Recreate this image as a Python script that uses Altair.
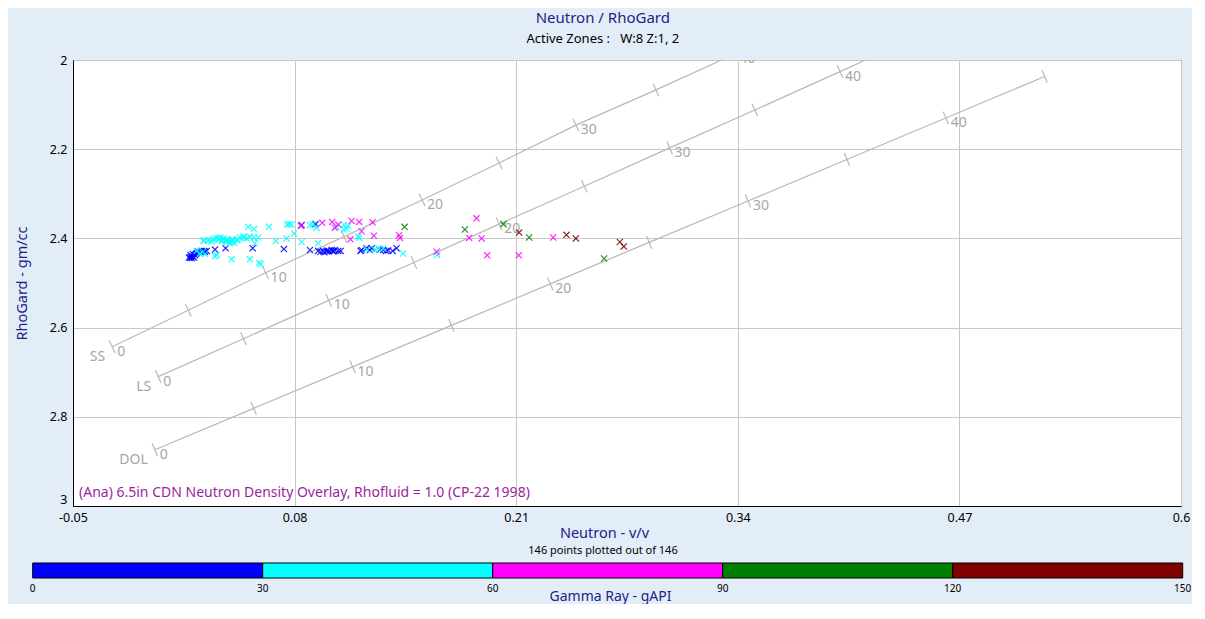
import altair as alt
import numpy as np
import pandas as pd

# ---------------- chart geometry ----------------
W, H = 1108, 446
X_DOMAIN = [-0.05, 0.6]
Y_DOMAIN = [2.0, 3.0]
FONT = "Noto Sans"
NAVY = "#22228a"
GRAY_LINE = "#b8b8b8"
GRAY_TEXT = "#a6a6a6"
BAR_LEFT = -40.3     # colour bar starts this many px left of the plot's left edge
BAR_LEN = 1150.0     # colour bar length in px

# ---------------- cross-plot points (neutron v/v, RhoGard gm/cc, GR gAPI) ----------------
blue_nphi = [0.018, 0.019, 0.020, 0.021, 0.019, 0.022, 0.0235, 0.025, 0.0255, 0.027, 0.0274, 0.0284,
             0.0333, 0.0395, 0.0554, 0.0737, 0.0841, 0.0923, 0.089, 0.0938, 0.0952, 0.0968, 0.0988,
             0.1003, 0.1023, 0.1036, 0.1056, 0.107, 0.1193, 0.1222, 0.1252, 0.130, 0.132, 0.1349,
             0.1375, 0.1398, 0.1187, 0.1242, 0.1017, 0.0198, 0.0227, 0.0189, 0.0215, 0.0203, 0.0975,
             0.0992, 0.103, 0.1336]
blue_rhob = [2.443, 2.441, 2.440, 2.443, 2.437, 2.435, 2.430, 2.430, 2.428, 2.428, 2.430, 2.428,
             2.425, 2.422, 2.422, 2.424, 2.370, 2.368, 2.426, 2.428, 2.430, 2.429, 2.429,
             2.429, 2.428, 2.426, 2.428, 2.428, 2.426, 2.422, 2.422, 2.4255, 2.426, 2.427,
             2.428, 2.422, 2.428, 2.426, 2.426, 2.444, 2.433, 2.444, 2.438, 2.435, 2.431,
             2.427, 2.429, 2.428]
blue_gr = [14, 16, 12, 18, 15, 20, 22, 19, 21, 24, 17, 23, 25, 26, 27, 28, 29, 28, 24, 22, 21, 23, 25, 26,
           27, 24, 22, 25, 26, 28, 27, 24, 23, 25, 26, 29, 24, 27, 26, 13, 19, 11, 17, 15, 22, 23, 21, 27]

cyan_nphi = [0.0528, 0.0561, 0.0649, 0.0757, 0.0782, 0.089, 0.0906, 0.0929, 0.1046, 0.1089, 0.1114, 0.1089, 0.1105,
             0.0264, 0.0293, 0.0319, 0.0358, 0.0372, 0.0385, 0.0401, 0.0416, 0.043, 0.0444, 0.0460, 0.0479,
             0.0499, 0.0518, 0.0538, 0.0561, 0.0587, 0.0567, 0.069, 0.0753, 0.0798, 0.0841, 0.0938, 0.1173, 0.1179,
             0.0345, 0.0374, 0.0403, 0.042, 0.0439, 0.031, 0.027,
             0.0225, 0.0245, 0.0274, 0.0343, 0.0333, 0.043, 0.0538, 0.0592, 0.0601, 0.1226, 0.1271, 0.129,
             0.132, 0.1437, 0.1636, 0.026,
             0.0768,
             0.0327, 0.0394, 0.0435, 0.0468, 0.0503, 0.0363]
cyan_rhob = [2.374, 2.379, 2.374, 2.369, 2.369, 2.370, 2.369, 2.376, 2.374, 2.380, 2.372, 2.370, 2.378,
             2.406, 2.405, 2.404, 2.402, 2.406, 2.400, 2.402, 2.406, 2.408, 2.410, 2.404, 2.398,
             2.396, 2.400, 2.396, 2.398, 2.398, 2.411, 2.406, 2.400, 2.389, 2.408, 2.411, 2.396, 2.399,
             2.399, 2.404, 2.407, 2.411, 2.404, 2.407, 2.404,
             2.428, 2.434, 2.435, 2.437, 2.440, 2.447, 2.447, 2.455, 2.458, 2.425, 2.425, 2.422,
             2.423, 2.434, 2.437, 2.431,
             2.368,
             2.400, 2.405, 2.402, 2.403, 2.399, 2.398]
cyan_gr = [41, 44, 46, 48, 47, 52, 53, 50, 55, 56, 54, 57, 55,
           33, 35, 36, 38, 37, 39, 40, 42, 43, 44, 41, 45, 46, 47, 48, 49, 50, 46, 51, 52, 53, 54, 55, 57, 56,
           38, 40, 42, 43, 45, 36, 34,
           31, 32, 33, 34, 35, 36, 38, 39, 40, 48, 49, 51, 52, 54, 58, 32,
           47,
           37, 41, 44, 46, 49, 39]

magenta_nphi = [0.0837, 0.0962, 0.1021, 0.1036, 0.1056, 0.1134, 0.1179, 0.1193, 0.1257, 0.1265,
                0.1128, 0.1413, 0.1418, 0.1633, 0.1824, 0.1867, 0.1897, 0.193, 0.2115, 0.2317]
magenta_rhob = [2.372, 2.365, 2.363, 2.376, 2.369, 2.361, 2.363, 2.384, 2.364, 2.394,
                2.402, 2.393, 2.399, 2.430, 2.399, 2.355, 2.400, 2.438, 2.438, 2.398]
magenta_gr = [63, 66, 68, 71, 70, 73, 72, 75, 74, 78, 76, 80, 79, 84, 82, 85, 86, 88, 87, 89]

green_nphi = [0.1445, 0.1799, 0.2025, 0.2176, 0.2616]
green_rhob = [2.374, 2.380, 2.368, 2.398, 2.445]
green_gr = [95, 98, 104, 108, 115]

maroon_nphi = [0.2117, 0.2395, 0.245, 0.2708, 0.2731]
maroon_rhob = [2.387, 2.392, 2.400, 2.408, 2.418]
maroon_gr = [124, 128, 131, 136, 140]

# ---------------- GR colour scale ----------------
gr_breaks = [30, 60, 90, 120]
gr_edges = [0, 30, 60, 90, 120, 150]
gr_colors = ["#0000ff", "#00ffff", "#ff00ff", "#008000", "#800000"]

# ---------------- axes ----------------
x_ticks = [-0.05, 0.08, 0.21, 0.34, 0.47, 0.6]
y_ticks = [2.0, 2.2, 2.4, 2.6, 2.8, 3.0]

# ---------------- CP-22 lithology lines: tick marks (porosity p.u., neutron, density) ----------------
ss_phi = [0, 5, 10, 15, 20, 25, 30, 35, 40]
ss_nphi = [-0.027, 0.0176, 0.063, 0.109, 0.1548, 0.200, 0.245, 0.292, 0.338]
ss_rhob = [2.643, 2.561, 2.477, 2.396, 2.314, 2.231, 2.146, 2.067, 1.987]
ss_end = None

ls_phi = [0, 5, 10, 15, 20, 25, 30, 35, 40]
ls_nphi = [0.0, 0.05, 0.10, 0.15, 0.20, 0.25, 0.30, 0.35, 0.40]
ls_rhob = [2.71, 2.625, 2.539, 2.454, 2.368, 2.283, 2.197, 2.112, 2.026]
ls_end = (0.415, 2.0)          # where the limestone line leaves the top of the plot

dol_phi = [0, 5, 10, 15, 20, 25, 30, 35, 40, 45]
dol_nphi = [-0.002, 0.056, 0.114, 0.172, 0.230, 0.288, 0.346, 0.404, 0.462, 0.520]
dol_rhob = [2.874, 2.781, 2.688, 2.595, 2.502, 2.409, 2.316, 2.223, 2.130, 2.037]
dol_end = None

annotation = "(Ana) 6.5in CDN Neutron Density Overlay, Rhofluid = 1.0 (CP-22 1998)"
subtitle = "Active Zones :\u00a0\u00a0\u00a0W:8 Z:1, 2"

# ---------------- build tables ----------------
pts = pd.DataFrame({
    "nphi": blue_nphi + cyan_nphi + magenta_nphi + green_nphi + maroon_nphi,
    "rhob": blue_rhob + cyan_rhob + magenta_rhob + green_rhob + maroon_rhob,
    "gr": blue_gr + cyan_gr + magenta_gr + green_gr + maroon_gr,
})
pts["order"] = np.arange(len(pts))


def tick_angles(xs, ys):
    px = (np.asarray(xs) - X_DOMAIN[0]) / (X_DOMAIN[1] - X_DOMAIN[0]) * W
    py = (np.asarray(ys) - Y_DOMAIN[0]) / (Y_DOMAIN[1] - Y_DOMAIN[0]) * H
    ang = np.degrees(np.arctan2(np.gradient(py), np.gradient(px)))
    return ((ang + 90) % 360).round(1)


tick_rows, line_rows = [], []
for name, phis, xs, ys, end in [("SS", ss_phi, ss_nphi, ss_rhob, ss_end),
                                ("LS", ls_phi, ls_nphi, ls_rhob, ls_end),
                                ("DOL", dol_phi, dol_nphi, dol_rhob, dol_end)]:
    angs = tick_angles(xs, ys)
    for p, x, y, a in zip(phis, xs, ys, angs):
        tick_rows.append({"lith": name, "phi": p, "nphi": x, "rhob": y, "ang": float(a),
                          "lab": str(p) if p % 10 == 0 else ""})
        line_rows.append({"lith": name, "phi": p, "nphi": x, "rhob": y})
    if end is not None:
        line_rows.append({"lith": name, "phi": phis[-1] + 1, "nphi": end[0], "rhob": end[1]})
ticks_df = pd.DataFrame(tick_rows)
lines_df = pd.DataFrame(line_rows)
lith_start = ticks_df[ticks_df["phi"] == 0]
lith_lab = ticks_df[ticks_df["lab"] != ""]

x_enc = alt.X("nphi:Q",
              scale=alt.Scale(domain=X_DOMAIN, nice=False, zero=False),
              axis=alt.Axis(values=x_ticks, title="Neutron - v/v", titleColor=NAVY,
                            labelExpr="replace(format(datum.value, '.2~f'), '\u2212', '-')",
                            labelFlush=False, labelPadding=5, titlePadding=3, titleX=531,
                            titleFontSize=14.5))
y_enc = alt.Y("rhob:Q",
              scale=alt.Scale(domain=Y_DOMAIN, reverse=True, nice=False, zero=False),
              axis=alt.Axis(values=y_ticks, title="RhoGard - gm/cc", titleColor=NAVY,
                            labelExpr="format(datum.value, '.1~f')",
                            labelBaseline=alt.condition("datum.value == 3", alt.value("bottom"),
                                                        alt.value("middle")),
                            labelPadding=6, titlePadding=20, titleFontSize=14.5))

lines = alt.Chart(lines_df).mark_line(color=GRAY_LINE, strokeWidth=1.2, clip=True).encode(
    x=x_enc, y=y_enc, detail="lith:N", order="phi:Q")
ticks = alt.Chart(ticks_df).mark_point(shape="stroke", size=190, filled=False, color=GRAY_LINE,
                                       strokeWidth=1.2, opacity=1, clip=True).encode(
    x=x_enc, y=y_enc, angle=alt.Angle("ang:Q", scale=None))
tick_text = alt.Chart(lith_lab).mark_text(align="left", baseline="middle", dx=5, dy=5,
                                          color=GRAY_TEXT, fontSize=14, font=FONT, clip=True).encode(
    x=x_enc, y=y_enc, text="lab:N")
lith_names = alt.Chart(lith_start).mark_text(align="right", baseline="middle", dx=-7, dy=10,
                                             color=GRAY_TEXT, fontSize=14, font=FONT).encode(
    x=x_enc, y=y_enc, text="lith:N")

X_SHAPE = "M-1,-1L1,1M-1,1L1,-1"
points = alt.Chart(pts).mark_point(shape=X_SHAPE, filled=False, size=38, strokeWidth=1.2,
                                   opacity=0.85).encode(
    x=x_enc, y=y_enc,
    color=alt.Color("gr:Q", scale=alt.Scale(type="threshold", domain=gr_breaks, range=gr_colors),
                    legend=None),
    order="order:Q")

note = alt.Chart(pd.DataFrame({"t": [annotation]})).mark_text(
    align="left", baseline="middle", color="#9b1f9b", fontSize=14, font=FONT).encode(
    x=alt.value(6), y=alt.value(H - 13), text="t:N")

main = alt.layer(lines, ticks, tick_text, lith_names, points, note).properties(width=W, height=H)

# ---------------- colour bar (GR scale stretched so the bar overhangs the plot's left edge) ----------------
gr_per_px = (gr_edges[-1] - gr_edges[0]) / BAR_LEN
leg_domain = [gr_edges[0] - BAR_LEFT * gr_per_px, gr_edges[0] + (W - BAR_LEFT) * gr_per_px]
gr_x_scale = alt.Scale(domain=leg_domain, nice=False, zero=False)

leg = pd.DataFrame({"lo": gr_edges[:-1], "hi": gr_edges[1:], "c": gr_colors})
leg_labels = pd.DataFrame({"lo": gr_edges, "t": [str(v) for v in gr_edges]})

bar = alt.Chart(leg).mark_rect(stroke="black", strokeWidth=1).encode(
    x=alt.X("lo:Q", scale=gr_x_scale,
            axis=alt.Axis(labels=False, ticks=False, domain=False, grid=False,
                          title="Gamma Ray - gAPI", titleColor=NAVY, titleFontSize=14,
                          titlePadding=11, titleX=537)),
    x2="hi:Q",
    color=alt.Color("c:N", scale=None),
)
bar_labels = alt.Chart(leg_labels).mark_text(fontSize=10, color="black", font=FONT,
                                             baseline="middle", dy=11).encode(
    x=alt.X("lo:Q", scale=gr_x_scale), y=alt.value(15), text="t:N")

legend = alt.layer(bar, bar_labels).properties(
    width=W, height=15,
    view=alt.ViewBackground(stroke="transparent", fill="transparent"),
    title=alt.Title("146 points plotted out of 146", fontSize=11, color="black",
                    fontWeight="normal", anchor="middle", frame="group", dx=-24, offset=7, font=FONT))

chart = alt.vconcat(main, legend, spacing=3).properties(
    title=alt.Title("Neutron / RhoGard", subtitle=subtitle,
                    anchor="middle", frame="bounds", fontSize=15, color=NAVY, fontWeight="normal",
                    subtitleFontSize=13, subtitleColor="black", subtitlePadding=7, offset=8,
                    font=FONT, subtitleFont=FONT),
    padding={"left": 5, "top": 2, "right": 0, "bottom": 0},
    background="#e3edf7",
).configure_view(
    fill="white", stroke="black", strokeWidth=1
).configure_axis(
    labelFont=FONT, titleFont=FONT, labelFontSize=12.5, labelColor="black",
    domainColor="black", gridColor="#c8c8c8", ticks=False, titleFontWeight="normal"
)

chart.save("out.html", embed_options={"renderer": "svg", "actions": False})
